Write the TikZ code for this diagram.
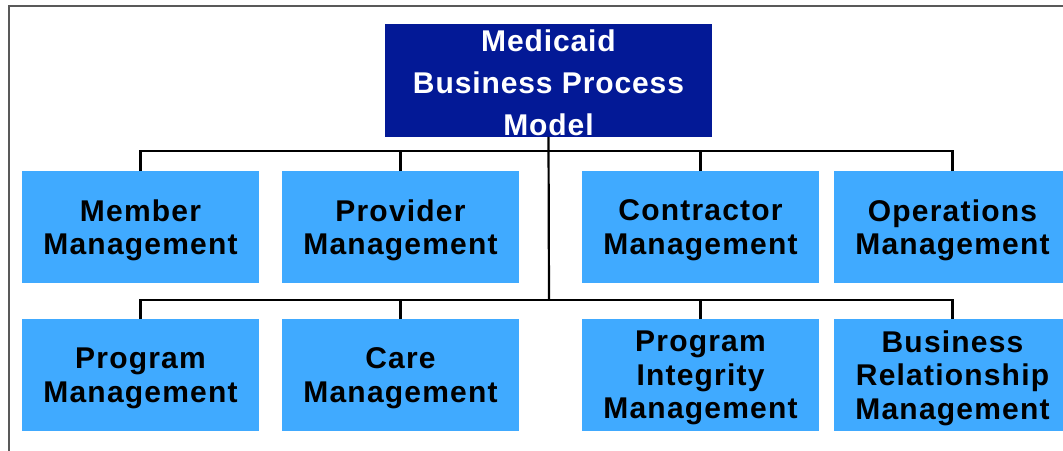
\documentclass[tikz,border=0pt]{standalone}
\usepackage{fontspec}
\setmainfont{Liberation Sans}
\newfontfamily\areafont{Liberation Sans}[LetterSpace=4]
\newfontfamily\headfont{Liberation Sans}[LetterSpace=3]
\definecolor{mbpblue}{RGB}{3,25,150}
\definecolor{areablue}{RGB}{64,170,255}
\tikzstyle{area}=[fill=areablue,text=black,minimum width=237,minimum height=112,inner sep=0pt,text depth=0bp,align=center,font=\areafont\bfseries\fontsize{30bp}{33.5bp}\selectfont]
\tikzstyle{head}=[fill=mbpblue,text=white,minimum width=329,minimum height=113,inner sep=0pt,align=center,font=\headfont\bfseries\fontsize{30bp}{42bp}\selectfont]
\tikzstyle{link} = [draw,line width=2.2bp,-]
\newcommand{\rowone}{227}
\newcommand{\rowtwo}{375}

\begin{document}
\begin{tikzpicture}[x=1bp, y=-1bp]
    \useasboundingbox (0,0) rectangle (1063,451);
    % frame
    \draw[color=black!65,line width=2bp] (8.5,470) -- (8.5,6.5) -- (1080,6.5);
    % the model at the top
    \node[head] (title) at (548.5,80.5) {};
    \node[head,fill=none,minimum width=0,minimum height=0] (title text) at (548.5,83) {Medicaid\\Business Process\\Model};
    % First we draw the business areas
    \foreach \pos/\name/\text in {{(140.5,\rowone)/member/{Member\\Management}},
        {(400.5,\rowone)/provider/{Provider\\Management}},
        {(700.5,\rowone)/contractor/{Contractor\\Management}},
        {(952.5,\rowone)/operations/{Operations\\Management}},
        {(140.5,\rowtwo)/program/{Program\\Management}},
        {(400.5,\rowtwo)/care/{Care\\Management}},
        {(700.5,\rowtwo)/integrity/{Program\\Integrity\\Management}},
        {(952.5,\rowtwo)/relationship/{Business\\Relationship\\Management}}}
        \node[area] (\name) at \pos {\text};
    % Connect the areas to the model
    \coordinate (top bus) at (549,151);
    \coordinate (low bus) at (549,300);
    \path[link] (title.south) -- (low bus);
    \foreach \name in {member,provider,contractor,operations}
        \path[link] (\name.north) |- (top bus);
    \foreach \name in {program,care,integrity,relationship}
        \path[link] (\name.north) |- (low bus);
\end{tikzpicture}
\end{document}
